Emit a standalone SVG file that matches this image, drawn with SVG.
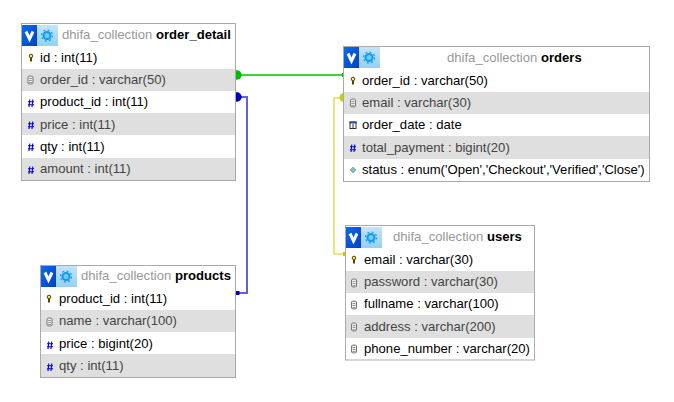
<svg xmlns="http://www.w3.org/2000/svg" width="674" height="402" viewBox="0 0 674 402">
<style>
text{font-family:"Liberation Sans",Arial,sans-serif;font-size:13.1px;fill:#000}
.box{fill:#fff;stroke:#aaa;stroke-width:1}
.alt{fill:#dfdfdf}
.dim{fill:#444}
.db{fill:#999}
.tn{font-weight:bold}
.c{fill:none;stroke-width:2}
</style>
<defs>
<linearGradient id="gv" x1="0" y1="0" x2="1" y2="1"><stop offset="0" stop-color="#0a6cf0"/><stop offset="1" stop-color="#0040c0"/></linearGradient>
<linearGradient id="gs" x1="0" y1="0" x2="0" y2="1"><stop offset="0" stop-color="#c4e4fb"/><stop offset="1" stop-color="#95cff5"/></linearGradient>
<g id="hd">
<rect x="0" y="0" width="15" height="21" fill="url(#gv)"/>
<path d="M4 6.500 L7.500 14 L11 6.500" fill="none" stroke="#fff" stroke-width="3"/>
<rect x="15" y="0" width="21" height="21" fill="url(#gs)"/>
<circle cx="25" cy="10.500" r="3.500" fill="#7cc8f8" stroke="#0a9cf0" stroke-width="2"/>
<circle cx="25" cy="10.500" r="5.500" fill="none" stroke="#0a9cf0" stroke-width="1.200" stroke-dasharray="2 2.300"/>
</g>
<g id="key"><circle cx="0" cy="-2" r="1.800" fill="#f2e56a" stroke="#554400" stroke-width="1"/><path d="M0 0V3.500" stroke="#554400" stroke-width="2"/></g>
<g id="txt"><path d="M-2.500 -3Q-2.500 -4 0 -4Q2.500 -4 2.500 -3V3Q2.500 4 0 4Q-2.500 4 -2.500 3Z" fill="#eee" stroke="#777" stroke-width="1"/><path d="M-1.500 -1.500H1.500M-1.500 .5H1.500M-1.500 2.500H1.500" stroke="#777" stroke-width=".7"/></g>
<g id="num"><path d="M-1.200 -3.500L-2 4M1.800 -3.500L1 4M-3 -1.200H3M-3 1.700H3" stroke="#0000dd" stroke-width="1.100" fill="none"/></g>
<g id="dat"><rect x="-3" y="-3" width="6" height="6.500" fill="#fff" stroke="#333" stroke-width="1"/><rect x="-3.500" y="-3.500" width="7" height="2" fill="#1a50c0"/><path d="M0 -1V3" stroke="#333"/></g>
<g id="enm"><path d="M0 -3L3 0L0 3L-3 0Z" fill="#7cc4c8" stroke="#99a" stroke-width=".8"/></g>
</defs>
<rect width="674" height="402" fill="#fff"/>
<g id="connectors">
<path class="c" stroke="#3dd43d" d="M237 75H344"/>
<path d="M237 70.300A4.700 4.700 0 0 1 237 79.700H235.500V70.300Z" fill="#00bb00"/>
<path d="M342 73H344V77H342Z" fill="#00bb00"/>
<path class="c" stroke="#6060dd" d="M238 97H247V293H238"/>
<path d="M237 92.300A4.700 4.700 0 0 1 237 101.700H235.500V92.300Z" fill="#0000bb"/>
<rect x="236" y="291" width="3.500" height="4" fill="#0000bb"/>
<path class="c" stroke="#e8e488" d="M340 98H334V254H345"/>
<path d="M344 93A4.500 4.500 0 0 0 344 102Z" fill="#cccc00"/>
<rect x="343" y="252" width="2.500" height="4" fill="#cccc00"/>
</g>
<g id="order_detail">
<rect class="box" x="21.500" y="23.500" width="214" height="157"/>
<use href="#hd" x="22" y="25"/>
<text x="62" y="39"><tspan class="db">dhifa_collection</tspan> <tspan class="tn">order_detail</tspan></text>
<rect class="alt" x="22" y="69" width="213" height="22"/>
<rect class="alt" x="22" y="113" width="213" height="22"/>
<rect class="alt" x="22" y="158" width="213" height="22"/>
<use href="#key" x="31" y="58"/><text x="40" y="62">id : int(11)</text>
<use href="#txt" x="30.500" y="80"/><text class="dim" x="40" y="84">order_id : varchar(50)</text>
<use href="#num" x="31" y="103"/><text x="40" y="106">product_id : int(11)</text>
<use href="#num" x="31" y="125"/><text class="dim" x="40" y="129">price : int(11)</text>
<use href="#num" x="31" y="147"/><text x="40" y="151">qty : int(11)</text>
<use href="#num" x="31" y="170"/><text class="dim" x="40" y="173">amount : int(11)</text>
</g>
<g id="orders">
<rect class="box" x="343.500" y="46.500" width="306" height="135"/>
<use href="#hd" x="344" y="47"/>
<text x="447" y="62"><tspan class="db">dhifa_collection</tspan> <tspan class="tn">orders</tspan></text>
<rect class="alt" x="344" y="92" width="305" height="22"/>
<rect class="alt" x="344" y="136" width="305" height="23"/>
<use href="#key" x="353" y="81"/><text x="362" y="85">order_id : varchar(50)</text>
<use href="#txt" x="353" y="103"/><text class="dim" x="362" y="107">email : varchar(30)</text>
<use href="#dat" x="353" y="125"/><text x="362" y="129">order_date : date</text>
<use href="#num" x="353" y="148"/><text class="dim" x="362" y="152">total_payment : bigint(20)</text>
<use href="#enm" x="353" y="170"/><text x="362" y="174">status : enum('Open','Checkout','Verified','Close')</text>
</g>
<g id="users">
<rect class="box" x="345.500" y="225.500" width="189" height="134.500"/>
<use href="#hd" x="346" y="227"/>
<text x="393" y="241"><tspan class="db">dhifa_collection</tspan> <tspan class="tn">users</tspan></text>
<rect class="alt" x="346" y="271" width="188" height="22"/>
<rect class="alt" x="346" y="315" width="188" height="23"/>
<use href="#key" x="354" y="260"/><text x="364" y="264">email : varchar(30)</text>
<use href="#txt" x="354" y="283"/><text class="dim" x="364" y="286">password : varchar(30)</text>
<use href="#txt" x="354" y="305"/><text x="364" y="308">fullname : varchar(100)</text>
<use href="#txt" x="354" y="327"/><text class="dim" x="364" y="331">address : varchar(200)</text>
<use href="#txt" x="354" y="349"/><text x="364" y="353">phone_number : varchar(20)</text>
</g>
<g id="products">
<rect class="box" x="40.500" y="265.500" width="195" height="112"/>
<use href="#hd" x="41" y="266"/>
<text x="81" y="280"><tspan class="db">dhifa_collection</tspan> <tspan class="tn">products</tspan></text>
<rect class="alt" x="41" y="310" width="194" height="22"/>
<rect class="alt" x="41" y="354" width="194" height="23"/>
<use href="#key" x="49" y="299"/><text x="59" y="303">product_id : int(11)</text>
<use href="#txt" x="49.500" y="322"/><text class="dim" x="59" y="325">name : varchar(100)</text>
<use href="#num" x="50" y="345"/><text x="59" y="348">price : bigint(20)</text>
<use href="#num" x="50" y="367"/><text class="dim" x="59" y="370">qty : int(11)</text>
</g>
</svg>
